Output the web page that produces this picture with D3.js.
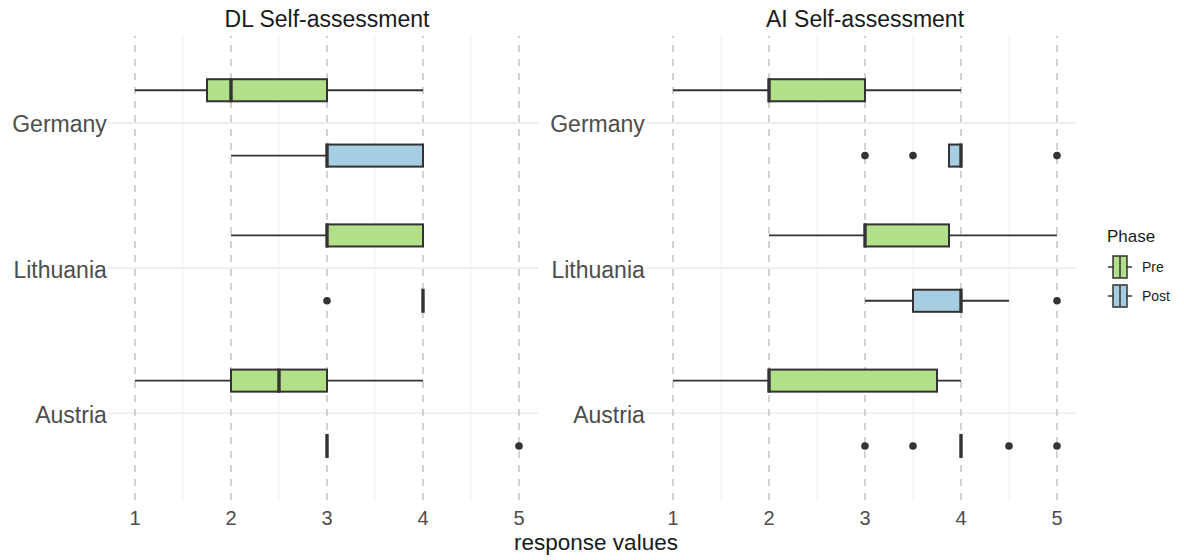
<!DOCTYPE html>
<html>
<head>
<meta charset="utf-8">
<script src="https://cdn.jsdelivr.net/npm/d3@7"></script>
<style>
  html, body { margin: 0; padding: 0; background: #fff; }
  svg { display: block; font-family: "Liberation Sans", Arial, sans-serif; }
</style>
</head>
<body>
<svg id="chart" width="1184" height="560"></svg>
<script>
// Categories, panels and ticks
const countries = ["Germany", "Lithuania", "Austria"];
const phases = ["Pre", "Post"];
const panelTitles = ["DL Self-assessment", "AI Self-assessment"];
const xTicks = [1, 2, 3, 4, 5];
const xMinor = [1.5, 2.5, 3.5, 4.5];
const phaseColors = ["#b2df8a", "#a6cee3"];

// Box summaries per country: [lower whisker, Q1, median, Q3, upper whisker]
const dlPre  = [[1, 1.75, 2, 3, 4], [2, 3, 3, 4, 4], [1, 2, 2.5, 3, 4]];
const dlPost = [[2, 3, 3, 4, 4], [4, 4, 4, 4, 4], [3, 3, 3, 3, 3]];
const aiPre  = [[1, 2, 2, 3, 4], [2, 3, 3, 3.875, 5], [1, 2, 2, 3.75, 4]];
const aiPost = [[3.875, 3.875, 4, 4, 4], [3, 3.5, 4, 4, 4.5], [4, 4, 4, 4, 4]];

// Outlying responses per country
const dlPreOut  = [[], [], []];
const dlPostOut = [[], [3], [5]];
const aiPreOut  = [[], [], []];
const aiPostOut = [[3, 3.5, 5], [5], [3, 3.5, 4.5, 5]];

const panelData = [
  { title: panelTitles[0], stats: [dlPre, dlPost], outs: [dlPreOut, dlPostOut] },
  { title: panelTitles[1], stats: [aiPre, aiPost], outs: [aiPreOut, aiPostOut] }
];

const svg = d3.select("#chart");
const ink = "#333333";

// Vertical scale: countries at positions 3, 2, 1 (top to bottom)
const y = d3.scaleLinear().domain([0.4, 3.6]).range([500.4, 35.8]);
const catPos = c => 3 - countries.indexOf(c);
const dodge = [0.225, -0.225];     // Pre above, Post below
const halfBox = 0.076;

const panelRanges = [[115.8, 538.2], [653.8, 1076.2]];

panelData.forEach((p, pi) => {
  const x = d3.scaleLinear().domain([0.8, 5.2]).range(panelRanges[pi]);
  const g = svg.append("g");
  const [x0, x1] = x.range();
  const [yB, yT] = y.range();

  // minor vertical grid
  g.selectAll(".minor").data(xMinor).join("line")
    .attr("x1", d => x(d)).attr("x2", d => x(d))
    .attr("y1", yT).attr("y2", yB)
    .attr("stroke", "#f0f0f0").attr("stroke-width", 1.1);

  // major horizontal grid at each country, with short ticks
  g.selectAll(".hgrid").data(countries).join("line")
    .attr("x1", x0 - 8).attr("x2", x1)
    .attr("y1", d => y(catPos(d))).attr("y2", d => y(catPos(d)))
    .attr("stroke", "#ebebeb").attr("stroke-width", 1.6);

  // dashed reference lines at each response value
  g.selectAll(".vref").data(xTicks).join("line")
    .attr("x1", d => x(d)).attr("x2", d => x(d))
    .attr("y1", yT).attr("y2", yB)
    .attr("stroke", "#c8c8c8").attr("stroke-width", 1.6)
    .attr("stroke-dasharray", "7,7").attr("stroke-dashoffset", 4.8);

  // boxes
  phases.forEach((ph, k) => {
    countries.forEach((c, ci) => {
      const s = p.stats[k][ci];
      const yc = y(catPos(c) + dodge[k]);
      const yTop = y(catPos(c) + dodge[k] + halfBox);
      const yBot = y(catPos(c) + dodge[k] - halfBox);
      // whiskers
      if (s[0] < s[1]) {
        g.append("line").attr("x1", x(s[0])).attr("x2", x(s[1]))
          .attr("y1", yc).attr("y2", yc)
          .attr("stroke", ink).attr("stroke-width", 1.8);
      }
      if (s[4] > s[3]) {
        g.append("line").attr("x1", x(s[3])).attr("x2", x(s[4]))
          .attr("y1", yc).attr("y2", yc)
          .attr("stroke", ink).attr("stroke-width", 1.8);
      }
      // box
      if (s[3] > s[1]) {
        g.append("rect")
          .attr("x", x(s[1])).attr("width", x(s[3]) - x(s[1]))
          .attr("y", yTop).attr("height", yBot - yTop)
          .attr("fill", phaseColors[k])
          .attr("stroke", ink).attr("stroke-width", 2);
      }
      // median
      g.append("line").attr("x1", x(s[2])).attr("x2", x(s[2]))
        .attr("y1", yTop - 1).attr("y2", yBot + 1)
        .attr("stroke", ink).attr("stroke-width", 3.4);
      // outliers
      g.selectAll(null).data(p.outs[k][ci]).join("circle")
        .attr("cx", d => x(d)).attr("cy", yc).attr("r", 3.8)
        .attr("fill", ink);
    });
  });

  // country labels
  g.selectAll(".ylab").data(countries).join("text")
    .attr("x", x0 - 9).attr("y", d => y(catPos(d)) + 1.5)
    .attr("dy", "0.35em").attr("text-anchor", "end")
    .attr("font-size", 23).attr("fill", "#4d4d4d")
    .text(d => d);

  // x tick labels
  g.selectAll(".xlab").data(xTicks).join("text")
    .attr("x", d => x(d)).attr("y", 525)
    .attr("text-anchor", "middle")
    .attr("font-size", 20).attr("fill", "#4d4d4d")
    .text(d => d);

  // panel title
  g.append("text")
    .attr("x", (x0 + x1) / 2).attr("y", 27)
    .attr("text-anchor", "middle")
    .attr("font-size", 23).attr("fill", "#1a1a1a")
    .text(p.title);
});

// x axis title
svg.append("text")
  .attr("x", 596).attr("y", 550)
  .attr("text-anchor", "middle")
  .attr("font-size", 22.5).attr("fill", "#1a1a1a")
  .text("response values");

// legend
const legend = svg.append("g");
legend.append("text").attr("x", 1107).attr("y", 242)
  .attr("font-size", 17).attr("fill", "#1a1a1a").text("Phase");
const keyY = d3.scalePoint().domain(phases).range([267, 296]);
phases.forEach((ph, k) => {
  const cy = keyY(ph);
  const cx = 1120;
  legend.append("line").attr("x1", cx - 12).attr("x2", cx + 12)
    .attr("y1", cy).attr("y2", cy).attr("stroke", ink).attr("stroke-width", 1.5);
  legend.append("rect").attr("x", cx - 7).attr("y", cy - 11)
    .attr("width", 14).attr("height", 22)
    .attr("fill", phaseColors[k]).attr("stroke", ink).attr("stroke-width", 1.5);
  legend.append("line").attr("x1", cx).attr("x2", cx)
    .attr("y1", cy - 11).attr("y2", cy + 11)
    .attr("stroke", ink).attr("stroke-width", 1.5);
  legend.append("text").attr("x", 1142).attr("y", cy).attr("dy", "0.35em")
    .attr("font-size", 14).attr("fill", "#1a1a1a").text(ph);
});
</script>
</body>
</html>
